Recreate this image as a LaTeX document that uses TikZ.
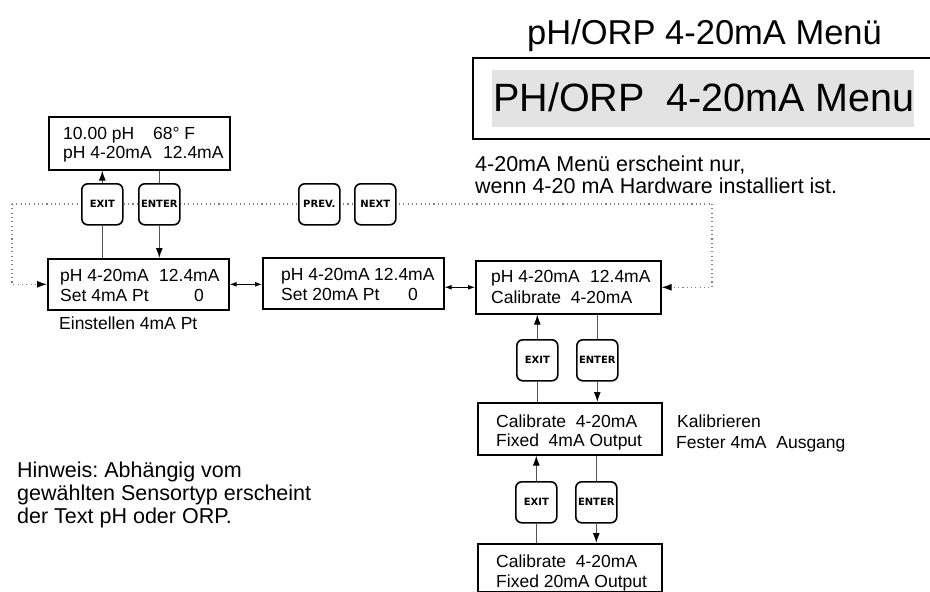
\documentclass[tikz,border=0pt]{standalone}
\usepackage{fontspec}
\setmainfont{Liberation Sans}
\newfontfamily\btnfamily{DejaVu Sans}
\usetikzlibrary{arrows.meta}
\definecolor{hdrgray}{HTML}{E3E3E3}
\definecolor{linegray}{HTML}{555555}
\definecolor{dotgray}{HTML}{808080}
\frenchspacing
\begin{document}
\begin{tikzpicture}[x=1pt,y=-1pt,
  lcd/.style={draw, line width=1.6pt, inner sep=0pt, anchor=north west},
  lt/.style={anchor=base west, inner sep=0pt, font=\fontsize{17.5}{20}\selectfont},
  note/.style={anchor=base west, inner sep=0pt, font=\fontsize{21.5}{24}\selectfont},
  btn/.style={draw, line width=1.6pt, rounded corners=6pt, fill=white, minimum width=41pt, minimum height=41pt, inner sep=0pt, anchor=north west, font=\btnfamily\bfseries\fontsize{10}{12}\selectfont},
  conn/.style={line width=1.1pt, draw=linegray},
  arr/.style={conn, -{Latex[length=10pt,width=7pt,color=black]}},
  dbl/.style={line width=1pt, {Latex[length=7pt,width=5pt]}-{Latex[length=7pt,width=5pt]}},
  dotline/.style={line width=1.1pt, draw=dotgray, dash pattern=on 1.1pt off 3.2pt},
  dotarr/.style={dotline, -{Latex[length=10pt,width=7pt,color=black]}}
]
\useasboundingbox (0,0) rectangle (930,592);

% header
\node[anchor=base west, inner sep=0pt, font=\fontsize{34.5}{40}\selectfont] (title) at (527,44) {pH/ORP 4-20mA Menü};
\draw[line width=1.4pt] (930,58) -| (473,139) -- (930,139);
\node[fill=hdrgray, minimum width=422pt, minimum height=57pt, inner sep=0pt, anchor=north west] (hdrbg) at (492,70) {};
\node[anchor=base west, inner sep=0pt, font=\fontsize{39.5}{44}\selectfont] (hdr) at (493,111) {PH/ORP\ \ 4-20mA Menu};
\node[note] (n1) at (475,171) {4-20mA Menü erscheint nur,};
\node[note] (n2) at (475,193) {wenn 4-20 mA Hardware installiert ist.};

% LCD boxes
\node[lcd, minimum width=181pt, minimum height=53pt] (top) at (48,116) {};
\node[lt] (topa) at (63,139) {\makebox[90pt][l]{10.00 pH}68° F};
\node[lt] (topb) at (63,158) {\makebox[100pt][l]{pH 4-20mA}12.4mA};

\node[lcd, minimum width=181pt, minimum height=51pt] (b1) at (47,258) {};
\node[lt] (b1a) at (60,281) {\makebox[99pt][l]{pH 4-20mA}12.4mA};
\node[lt] (b1b) at (60,301) {\makebox[134pt][l]{Set 4mA Pt}0};
\node[lt] (ein) at (59,329) {Einstellen 4mA Pt};

\node[lcd, minimum width=181pt, minimum height=51pt] (b2) at (262,257) {};
\node[lt] (b2a) at (281,280) {\makebox[93pt][l]{pH 4-20mA}12.4mA};
\node[lt] (b2b) at (281,300) {\makebox[127pt][l]{Set 20mA Pt}0};

\node[lcd, minimum width=185pt, minimum height=53pt] (b3) at (475,260) {};
\node[lt] (b3a) at (491,282) {\makebox[99pt][l]{pH 4-20mA}12.4mA};
\node[lt] (b3b) at (491,303) {Calibrate\ \ 4-20mA};

\node[lcd, minimum width=184pt, minimum height=52pt] (b4) at (477,402) {};
\node[lt] (b4a) at (496,427) {Calibrate\ \ 4-20mA};
\node[lt] (b4b) at (496,446) {Fixed\ \ 4mA Output};
\node[lt] (kal) at (677,427) {Kalibrieren};
\node[lt] (fes) at (676,448) {Fester 4mA\ \ Ausgang};

\node[lcd, minimum width=184pt, minimum height=48pt] (b5) at (477,543) {};
\node[lt] (b5a) at (496,567) {Calibrate\ \ 4-20mA};
\node[lt] (b5b) at (496,587) {Fixed 20mA Output};

% note
\node[note] (h1) at (17,477) {Hinweis: Abhängig vom};
\node[note] (h2) at (17,500) {gewählten Sensortyp erscheint};
\node[note] (h3) at (17,523) {der Text pH oder ORP.};

% dotted loop
\coordinate (dl) at (12,204);
\coordinate (dr) at (712,204);
\draw[dotline] (dl) -- (dr);
\draw[dotarr] (dl) |- (b1.west);
\draw[dotarr] (dr) |- (b3.east);

% buttons
\node[btn] (exit1) at (81,183) {EXIT};
\node[btn] (enter1) at (138,183) {ENTER};
\node[btn] (prev) at (298,183) {PREV.};
\node[btn] (next) at (354,183) {NEXT};
\node[btn] (exit2) at (516,339) {EXIT};
\node[btn] (enter2) at (576,339) {ENTER};
\node[btn] (exit3) at (515,481) {EXIT};
\node[btn] (enter3) at (575,481) {ENTER};

% connectors
\draw[arr] (exit1.north) -- (exit1.north |- top.south);
\draw[conn] (exit1.south) -- (exit1.south |- b1.north);
\draw[conn] (enter1.north |- top.south) -- (enter1.north);
\draw[arr] (enter1.south) -- (enter1.south |- b1.north);

\draw[arr] (exit2.north) -- (exit2.north |- b3.south);
\draw[conn] (exit2.south) -- (exit2.south |- b4.north);
\draw[conn] (enter2.north |- b3.south) -- (enter2.north);
\draw[arr] (enter2.south) -- (enter2.south |- b4.north);

\draw[arr] (exit3.north) -- (exit3.north |- b4.south);
\draw[conn] (exit3.south) -- (exit3.south |- b5.north);
\draw[conn] (enter3.north |- b4.south) -- (enter3.north);
\draw[arr] (enter3.south) -- (enter3.south |- b5.north);

\draw[dbl] (b1.east) -- (b1.east -| b2.west);
\draw[dbl] (b2.east |- b3.west) -- (b3.west);
\end{tikzpicture}
\end{document}
